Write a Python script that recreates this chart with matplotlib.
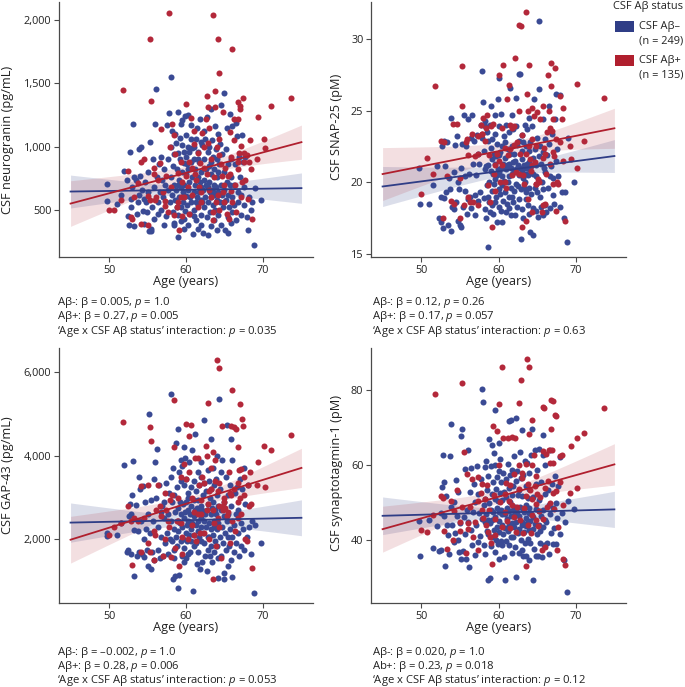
import numpy as np
import matplotlib
matplotlib.use("Agg")
import matplotlib.pyplot as plt
from matplotlib.patches import Rectangle
from matplotlib.ticker import FuncFormatter

plt.rcParams['font.family'] = ['Open Sans', 'DejaVu Sans']
plt.rcParams['mathtext.fontset'] = 'custom'
plt.rcParams['mathtext.rm'] = 'Open Sans'
plt.rcParams['mathtext.it'] = 'Open Sans:italic'

# ---------------- data ----------------
age_neg = [
49.7,49.8,51.0,51.5,52.0,52.3,52.5,52.6,52.7,52.8,
52.9,53.0,53.1,53.2,53.3,53.5,53.6,53.7,53.9,53.9,
54.0,54.2,54.3,54.4,54.5,54.6,54.7,54.8,54.9,55.0,
55.1,55.2,55.3,55.4,55.5,55.6,55.7,55.8,55.9,56.0,
56.1,56.2,56.3,56.4,56.5,56.6,56.7,56.8,56.9,57.0,
57.1,57.2,57.3,57.4,57.5,57.6,57.7,57.8,57.9,58.0,
58.1,58.1,58.2,58.2,58.3,58.3,58.4,58.4,58.5,58.5,
58.6,58.6,58.7,58.7,58.8,58.8,58.9,58.9,59.0,59.0,
59.0,59.1,59.1,59.2,59.2,59.3,59.3,59.4,59.4,59.5,
59.5,59.5,59.6,59.6,59.7,59.7,59.8,59.8,59.8,59.9,
59.9,60.0,60.0,60.0,60.0,60.1,60.1,60.2,60.2,60.3,
60.3,60.3,60.4,60.4,60.5,60.5,60.6,60.6,60.7,60.7,
60.8,60.8,60.9,61.0,61.0,61.0,61.1,61.1,61.2,61.2,
61.3,61.3,61.3,61.4,61.4,61.5,61.5,61.6,61.6,61.6,
61.7,61.7,61.8,61.8,61.9,61.9,61.9,62.0,62.0,62.0,
62.1,62.1,62.2,62.2,62.3,62.3,62.4,62.4,62.5,62.5,
62.6,62.6,62.7,62.7,62.8,62.8,62.9,62.9,63.0,63.0,
63.0,63.1,63.1,63.2,63.2,63.2,63.3,63.3,63.4,63.4,
63.5,63.5,63.5,63.6,63.6,63.7,63.7,63.8,63.8,63.9,
63.9,64.0,64.0,64.0,64.0,64.1,64.1,64.2,64.2,64.3,
64.4,64.4,64.5,64.5,64.6,64.7,64.7,64.8,64.9,64.9,
65.0,65.0,65.1,65.2,65.2,65.3,65.3,65.4,65.4,65.5,
65.5,65.6,65.7,65.7,65.8,65.8,65.9,66.0,66.0,66.0,
66.2,66.3,66.4,66.5,66.5,66.6,66.7,66.8,66.9,67.0,
67.1,67.2,67.3,67.4,67.5,67.6,67.7,67.9,68.0,68.2,
68.5,68.6,68.8,69.0,69.8]

age_pos = [
50.0,50.7,51.5,51.8,52.5,52.8,53.0,53.3,53.8,54.1,
54.2,54.6,55.0,55.0,55.3,55.3,55.5,55.8,55.9,56.0,
56.1,56.3,56.6,56.7,57.0,57.3,57.3,57.4,57.7,57.8,
57.9,58.0,58.2,58.4,58.5,58.6,58.8,58.9,59.1,59.3,
59.4,59.5,59.5,59.8,60.0,60.0,60.2,60.4,60.4,60.6,
60.8,60.8,61.0,61.1,61.2,61.3,61.5,61.5,61.7,61.8,
62.0,62.0,62.1,62.3,62.4,62.6,62.7,62.7,62.8,62.9,
63.0,63.2,63.3,63.5,63.5,63.5,63.7,63.8,63.8,63.9,
64.0,64.1,64.2,64.3,64.3,64.3,64.3,64.6,64.7,64.8,
64.8,64.9,65.0,65.3,65.4,65.6,65.7,65.7,65.8,65.9,
66.0,66.0,66.2,66.3,66.4,66.5,66.7,66.7,66.8,66.8,
66.9,67.0,67.0,67.1,67.2,67.3,67.4,67.5,67.6,67.7,
67.9,68.0,68.2,68.3,68.4,68.6,69.2,69.4,70.1,70.2,
71.1,73.6,59.0,63.0,65.1]

neurogranin_neg = [
708,571,545,620,805,740,450,380,960,520,
590,680,1178,370,760,735,470,560,980,620,
770,1000,655,490,590,390,720,560,480,800,
640,330,1040,330,350,520,900,680,430,1178,
1452,760,560,470,860,640,920,500,740,600,
380,820,700,450,1170,660,900,1262,560,1547,
1000,760,620,1120,480,850,940,380,700,400,
580,1100,1030,660,820,520,287,700,460,950,
1270,740,600,1070,900,680,1180,410,520,1010,
800,1210,640,560,960,350,870,700,430,1243,
490,1090,610,780,920,540,860,1000,660,820,
380,1250,960,720,600,470,1060,1170,880,560,
760,990,313,1000,640,450,500,900,820,700,
420,1060,560,600,1150,960,760,540,350,900,
880,640,1220,720,460,1040,680,580,800,380,
1010,560,660,320,900,1120,740,520,1060,600,
820,700,1230,440,680,960,560,300,720,1000,
850,640,480,880,600,1300,780,370,1050,660,
540,920,640,700,420,820,620,1160,500,680,
980,580,760,340,900,640,800,1100,460,860,
560,1020,1330,700,380,940,620,520,800,560,
1425,660,340,980,580,1150,720,440,320,860,
620,520,1260,700,400,760,900,1165,600,480,
700,540,860,420,1190,1080,640,560,920,760,
460,620,1090,880,540,680,920,440,340,600,
500,560,221,670,580]

neurogranin_pos = [
497,497,577,1449,808,445,430,603,710,385,
882,905,613,380,1847,575,1362,830,780,580,
600,740,870,1141,640,570,530,765,485,2058,
1000,680,1178,1088,460,940,520,790,339,600,
880,720,450,600,1336,770,680,880,470,1225,
830,620,1020,1120,780,735,520,950,680,870,
560,640,1110,995,830,1220,1400,780,1315,1030,
660,600,900,2042,485,420,760,1441,1315,560,
1000,1847,620,1578,1060,500,930,860,770,1272,
640,700,560,470,770,430,1112,780,650,920,
1773,560,1050,1215,700,480,1350,880,1218,820,
950,1320,1300,1005,600,720,1383,875,950,740,
930,590,880,1050,820,428,903,1236,1058,985,
1320,1386,560,1150,830]

snap25_neg = [
21.0,18.5,18.5,19.8,21.1,17.5,17.2,19.0,22.5,16.8,
22.9,18.9,21.1,19.3,22.8,17.0,20.3,19.5,24.5,16.6,
18.3,20.7,18.1,22.6,18.6,23.2,20.0,17.3,19.5,17.0,
21.0,16.9,22.7,18.3,24.7,19.4,20.4,22.5,17.8,18.8,
24.4,20.6,19.0,23.1,18.2,24.7,21.3,22.9,17.7,19.1,
20.5,23.3,18.7,22.0,21.3,19.3,24.0,27.8,23.1,25.6,
22.2,18.9,20.9,24.3,18.1,23.9,21.1,17.5,19.8,23.5,
19.0,15.5,21.2,22.9,18.6,20.0,24.0,17.9,20.8,22.4,
25.3,19.4,21.6,18.4,23.0,20.6,17.8,22.0,19.9,24.7,
21.3,18.6,20.2,23.4,19.0,21.8,17.2,20.5,22.7,25.8,
20.9,27.3,19.5,21.9,18.3,20.7,23.9,19.2,22.1,18.0,
21.0,24.8,20.4,17.2,22.5,19.8,21.3,18.7,23.2,20.1,
22.8,19.3,21.7,17.9,20.9,24.0,18.5,21.2,22.3,20.0,
19.0,23.5,21.3,18.2,20.4,26.6,22.0,19.6,21.0,17.7,
24.7,20.6,22.5,19.0,21.4,18.6,23.7,20.8,22.0,19.4,
17.7,21.5,23.9,19.9,25.9,20.9,18.3,22.6,21.2,19.7,
20.5,22.9,27.6,18.8,21.0,27.6,19.5,16.0,22.2,20.8,
18.1,21.6,23.3,20.3,17.5,22.8,19.6,21.2,24.0,20.0,
21.0,18.8,22.5,20.6,19.3,23.7,21.3,18.4,20.5,22.2,
19.6,21.4,17.8,24.5,20.9,16.5,22.8,21.1,19.2,23.9,
20.6,18.2,16.3,21.7,25.8,19.6,22.3,18.0,20.4,21.2,
19.3,23.1,17.6,21.8,20.1,31.3,26.5,19.0,22.5,18.3,
21.3,20.0,24.4,17.7,22.1,19.5,21.0,18.4,23.0,20.7,
17.9,21.9,19.6,22.7,25.3,20.4,18.2,21.1,23.4,19.1,
20.3,18.5,24.4,21.5,26.2,22.3,20.4,26.1,18.3,19.3,
17.5,19.3,15.8,23.1,20.0]

snap25_pos = [
19.2,21.7,20.6,26.7,22.9,17.5,22.8,20.4,18.7,24.1,
18.5,24.1,17.5,20.3,28.1,25.3,18.4,22.8,23.0,19.0,
21.9,18.6,23.4,18.6,21.8,22.0,18.4,23.2,24.0,23.4,
23.4,24.5,22.9,23.8,24.7,19.8,21.9,18.6,16.9,24.1,
20.6,21.2,19.4,22.0,27.5,21.5,20.0,23.8,21.2,28.2,
20.0,22.4,19.6,25.8,21.9,26.8,22.3,24.0,20.5,23.8,
22.6,23.9,28.7,20.7,22.8,25.0,31.0,20.6,22.0,30.9,
16.9,20.5,19.9,31.9,17.3,22.0,26.2,18.8,25.0,28.2,
22.5,21.6,20.8,25.2,23.0,17.9,21.2,24.6,21.4,19.9,
22.5,19.9,24.9,20.0,24.4,17.9,25.3,21.7,18.4,22.4,
18.5,22.0,20.6,23.5,27.5,25.0,23.8,21.3,28.3,26.7,
23.6,24.4,19.9,22.1,21.8,28.0,23.0,18.0,20.0,19.9,
22.8,26.0,24.4,25.2,21.5,17.3,22.5,21.6,21.0,26.9,
22.9,25.9,23.9,23.3,20.2]

gap43_neg = [
2150,2080,2110,2400,3790,1700,1750,2550,2850,1650,
2600,3050,3870,1130,2230,2820,1600,2200,3500,1700,
3200,2450,1650,3280,2000,1580,2900,2250,1750,2600,
1350,5010,2150,1280,2950,1700,2450,3450,1500,3850,
3000,4170,2300,1750,3300,1550,2650,2050,2800,1600,
2500,2900,1900,3350,2150,1650,2600,3100,2000,5470,
3500,2450,1950,2900,1060,3700,2250,1550,3050,1750,
2650,1130,4300,2050,3250,1850,2450,830,4630,2750,
2200,3600,1140,2900,2400,3900,1950,2600,3400,1600,
2300,3750,2000,2850,1450,3300,2500,1800,4200,2650,
3950,2150,2900,1550,3450,2350,1950,2700,3100,1650,
2450,3000,2100,3850,1700,2600,2250,3250,1950,2800,
2400,4150,760,2950,1850,2550,3400,2100,4530,2700,
1900,3150,2350,2750,1400,3600,2200,2950,1700,2450,
3300,2050,2650,1300,3850,2300,2800,1950,3500,2500,
1450,2700,3050,2150,4850,2450,1900,3350,2600,1600,
3150,2300,2700,1250,3650,2050,2850,1750,3400,2400,
2050,3000,1600,2600,4400,2250,3200,1850,2750,1450,
2900,2100,3700,2450,1700,3300,2300,2700,1950,3450,
2600,1850,3050,2250,4000,1550,2800,1070,2400,5350,
3200,2050,3600,1600,2700,2300,3900,1900,2550,1200,
1050,2900,2150,3500,1750,2450,4730,2050,1350,3050,
2600,1850,3300,2250,4410,1500,2800,2050,1100,3900,
2350,1700,3100,2600,1900,3250,2150,2700,1600,3450,
2400,1850,3200,2250,3700,1750,2850,2050,3300,2300,
1650,2450,720,2350,1920]

gap43_pos = [
2100,2300,2400,4800,2800,2450,1390,2500,2450,3270,
1700,2500,1900,3300,4700,1700,4350,2200,1500,2100,
2700,3300,2800,2550,1600,3100,2000,2700,2450,2300,
2950,1580,3050,5330,4220,1800,2450,3000,1370,2400,
3500,2050,1650,3800,4750,3450,2000,3600,4470,4730,
2350,3000,2650,2100,3950,1950,3940,2600,3300,2150,
2950,2600,3500,2150,3350,4240,4000,2700,2850,5270,
2000,3200,3700,2700,1050,4100,2400,3400,3900,1850,
6300,2500,3150,6100,2300,3350,2800,1560,4720,2700,
2800,3000,2900,2550,2650,3600,1900,3100,4720,3050,
5580,2450,4700,3200,2200,4650,3350,2900,2500,4200,
3650,5230,3000,3680,2600,4870,4720,3050,3500,2000,
1950,3300,2800,3600,2850,1320,3300,3850,4230,3250,
4150,4500,2450,3150,2750]

syt1_neg = [
45.2,36.0,45.4,38.0,43.8,37.1,47.3,37.6,54.1,62.8,
55.4,46.6,33.2,51.9,44.0,41.5,36.5,62.4,70.9,48.8,
44.2,39.7,50.3,42.0,56.0,46.5,40.2,52.9,37.0,44.6,
67.8,35.0,69.7,37.1,46.2,41.7,59.0,35.0,48.0,64.0,
45.0,32.9,53.0,42.7,59.3,38.7,47.5,55.0,36.2,50.2,
44.0,59.8,39.7,52.3,47.3,41.2,56.4,80.1,45.6,76.8,
49.5,38.8,59.6,44.8,51.0,36.5,47.0,61.1,42.5,53.3,
45.4,29.6,57.0,41.6,49.9,67.0,30.1,44.7,59.8,48.2,
38.5,52.4,65.4,45.4,41.0,55.6,47.6,63.1,42.7,51.0,
36.9,60.0,46.2,74.7,40.0,53.7,48.5,43.6,56.9,39.0,
50.5,66.0,45.1,58.5,35.2,47.6,42.2,52.6,61.6,39.8,
48.0,55.5,44.0,50.8,38.7,46.9,58.0,41.8,53.0,35.6,
47.0,43.2,29.6,51.5,39.8,56.3,45.6,48.7,60.2,42.4,
71.7,47.8,38.8,53.8,44.2,50.2,57.4,71.9,41.0,46.4,
52.0,36.7,58.8,44.6,48.2,40.8,54.5,46.7,62.5,43.5,
49.0,38.2,72.6,30.3,55.8,44.8,47.6,58.5,41.9,52.1,
46.5,36.7,53.5,43.1,63.5,48.8,40.0,56.6,45.0,37.6,
51.9,44.0,69.3,48.2,35.9,57.4,42.3,47.5,61.0,39.3,
49.5,43.8,54.5,46.0,36.0,60.7,44.6,51.3,40.5,47.4,
58.0,42.8,48.6,34.9,53.6,45.2,39.4,62.7,47.1,69.7,
43.0,51.5,29.6,46.2,37.8,63.9,44.4,35.8,55.0,48.3,
41.8,58.6,36.0,47.8,64.3,44.2,50.8,39.3,42.5,55.6,
46.6,35.6,62.8,43.6,68.0,48.0,38.8,52.3,45.4,60.0,
44.8,39.2,53.5,36.5,49.4,64.0,47.0,41.9,55.1,39.0,
48.6,43.3,57.0,50.0,39.0,46.0,54.5,62.2,41.6,47.4,
34.9,44.8,26.4,50.6,48.3]

syt1_pos = [
42.7,42.3,46.8,78.8,51.9,51.3,42.4,37.8,50.5,40.2,
47.7,53.5,42.6,45.0,81.8,48.8,63.6,36.7,57.6,44.7,
43.0,49.0,56.4,41.0,44.8,37.4,50.4,56.8,52.5,48.0,
55.0,46.0,51.0,44.0,54.6,42.3,48.2,41.0,33.8,70.4,
52.1,45.6,41.4,69.1,76.3,60.0,50.3,43.5,86.0,67.1,
52.4,47.6,55.3,45.3,67.3,50.5,54.8,43.3,67.4,49.5,
46.1,57.6,67.3,42.2,49.0,76.5,60.0,53.6,45.5,82.7,
56.6,42.1,48.5,33.2,60.3,51.8,88.1,55.0,44.2,68.2,
86.0,53.5,42.0,72.0,60.0,51.0,46.8,62.6,54.5,49.7,
57.2,45.4,52.3,47.8,51.5,37.4,75.5,63.8,45.8,75.2,
38.2,54.0,62.9,48.8,55.7,64.1,50.0,60.7,77.3,69.5,
64.1,77.0,52.5,60.6,48.4,73.2,53.1,73.0,37.4,43.7,
55.6,62.5,62.6,35.0,49.4,33.6,52.7,65.2,54.0,67.3,
68.6,75.3,39.2,58.0,43.8]

# fitted line at age 45 and 75, CI half-width at 45 / narrowest / 75  (neg, pos)
fit_neg = {'neurogranin': (645, 672, 130, 35, 120),
           'snap25': (19.7, 21.83, 1.4, 0.35, 1.15),
           'gap43': (2400, 2515, 470, 120, 430),
           'syt1': (46.55, 48.25, 5.0, 1.3, 4.8)}
fit_pos = {'neurogranin': (550, 1035, 180, 45, 135),
           'snap25': (20.57, 23.77, 1.85, 0.5, 1.4),
           'gap43': (1990, 3710, 560, 140, 470),
           'syt1': (43.0, 60.2, 6.1, 1.6, 5.5)}

panels = ['neurogranin', 'snap25', 'gap43', 'syt1']
ylabels = ['CSF neurogranin (pg/mL)', 'CSF SNAP-25 (pM)',
           'CSF GAP-43 (pg/mL)', 'CSF synaptotagmin-1 (pM)']
values_neg = [neurogranin_neg, snap25_neg, gap43_neg, syt1_neg]
values_pos = [neurogranin_pos, snap25_pos, gap43_pos, syt1_pos]
ylims = [(128, 2142), (14.77, 32.6), (474, 6582), (23.4, 91.1)]
yticks = [[500, 1000, 1500, 2000], [15, 20, 25, 30],
          [2000, 4000, 6000], [40, 60, 80]]
xticks = [50, 60, 70]
annotations = [
    ['Aβ-: β = 0.005, $p$ = 1.0', 'Aβ+: β = 0.27, $p$ = 0.005',
     '‘Age x CSF Aβ status’ interaction: $p$ = 0.035'],
    ['Aβ-: β = 0.12, $p$ = 0.26', 'Aβ+: β = 0.17, $p$ = 0.057',
     '‘Age x CSF Aβ status’ interaction: $p$ = 0.63'],
    ['Aβ-: β = –0.002, $p$ = 1.0', 'Aβ+: β = 0.28, $p$ = 0.006',
     '‘Age x CSF Aβ status’ interaction: $p$ = 0.053'],
    ['Aβ-: β = 0.020, $p$ = 1.0', 'Ab+: β = 0.23, $p$ = 0.018',
     '‘Age x CSF Aβ status’ interaction: $p$ = 0.12'],
]
legend_labels = ['CSF Aβ–\n(n = 249)', 'CSF Aβ+\n(n = 135)']
legend_title = 'CSF Aβ status'

# ---------------- style ----------------
BLUE = '#2f3d86'
BLUE_PT = '#3a4a94'
RED = '#b01f2e'
RED_PT = '#b3283a'
GREY = '#4a4a4a'

W, H = 685, 687
fig = plt.figure(figsize=(W / 100, H / 100), dpi=100)

def fig_rect(x0, y0, x1, y1):
    return [x0 / W, 1 - y1 / H, (x1 - x0) / W, (y1 - y0) / H]

rects = [fig_rect(59, 2, 313, 257), fig_rect(371, 2, 626, 257),
         fig_rect(59, 348, 313, 603), fig_rect(371, 348, 626, 603)]
ylab_x = [-0.177, -0.11, -0.177, -0.11]
ylab_y = [0.46, 0.51, 0.5, 0.51]
ann_x = [57, 372, 57, 372]
ann_y = [303, 303, 652, 652]

def band(xs, c45, c75, h45, hmin, h75):
    r = np.sqrt((h45 ** 2 - hmin ** 2) / (h75 ** 2 - hmin ** 2))
    xc = (45 + 75 * r) / (1 + r)
    k = np.sqrt(h75 ** 2 - hmin ** 2) / (75 - xc)
    h = np.sqrt(hmin ** 2 + (k * (xs - xc)) ** 2)
    c = c45 + (c75 - c45) * (xs - 45) / 30.0
    return c, c - h, c + h

xs = np.linspace(45, 75, 200)
thousands = FuncFormatter(lambda v, p: f'{v:,.0f}')

for i, key in enumerate(panels):
    ax = fig.add_axes(rects[i])
    for fit, col, alpha in ((fit_neg[key], BLUE, 0.17), (fit_pos[key], RED, 0.14)):
        c, lo, hi = band(xs, *fit)
        ax.fill_between(xs, lo, hi, color=col, alpha=alpha, linewidth=0, zorder=1)
    ax.scatter(age_neg, values_neg[i], s=19, color=BLUE_PT, linewidths=0, zorder=2)
    ax.scatter(age_pos, values_pos[i], s=19, color=RED_PT, linewidths=0, zorder=2)
    for fit, col in ((fit_neg[key], BLUE), (fit_pos[key], RED)):
        c, lo, hi = band(xs, *fit)
        ax.plot(xs, c, color=col, lw=1.3, zorder=3)
    ax.set_xlim(43.5, 76.5)
    ax.set_ylim(*ylims[i])
    ax.set_xticks(xticks)
    ax.set_yticks(yticks[i])
    if i in (0, 2):
        ax.yaxis.set_major_formatter(thousands)
    for s in ('top', 'right'):
        ax.spines[s].set_visible(False)
    for s in ('left', 'bottom'):
        ax.spines[s].set_color(GREY)
        ax.spines[s].set_linewidth(0.9)
    ax.tick_params(length=3.5, width=0.8, color=GREY, labelsize=7.8,
                   labelcolor='#222222', pad=2)
    ax.set_xlabel('Age (years)', fontsize=9.2, color='#222222')
    ax.xaxis.set_label_coords(0.5, -0.072)
    ax.set_ylabel(ylabels[i], fontsize=9.2, color='#222222')
    ax.yaxis.set_label_coords(ylab_x[i], ylab_y[i])
    for j, line in enumerate(annotations[i]):
        fig.text(ann_x[i] / W, 1 - (ann_y[i] + 14 * j) / H, line,
                 fontsize=8.1, color='#222222', va='center', ha='left')

# legend (drawn in figure coordinates)
fig.text(613 / W, 1 - 7 / H, legend_title, fontsize=7.9, color='#222222',
         va='center', ha='left')
for k, (lab, col, y0) in enumerate(zip(legend_labels, (BLUE, RED), (21, 55))):
    fig.add_artist(Rectangle((615 / W, 1 - (y0 + 11) / H), 19 / W, 11 / H,
                             transform=fig.transFigure, facecolor=col,
                             edgecolor='none'))
    first, second = lab.split('\n')
    fig.text(639 / W, 1 - (y0 + 5) / H, first, fontsize=7.9, color='#222222',
             va='center', ha='left')
    fig.text(639 / W, 1 - (y0 + 20) / H, second, fontsize=7.9, color='#222222',
             va='center', ha='left')

fig.savefig('out.png', dpi=100)
